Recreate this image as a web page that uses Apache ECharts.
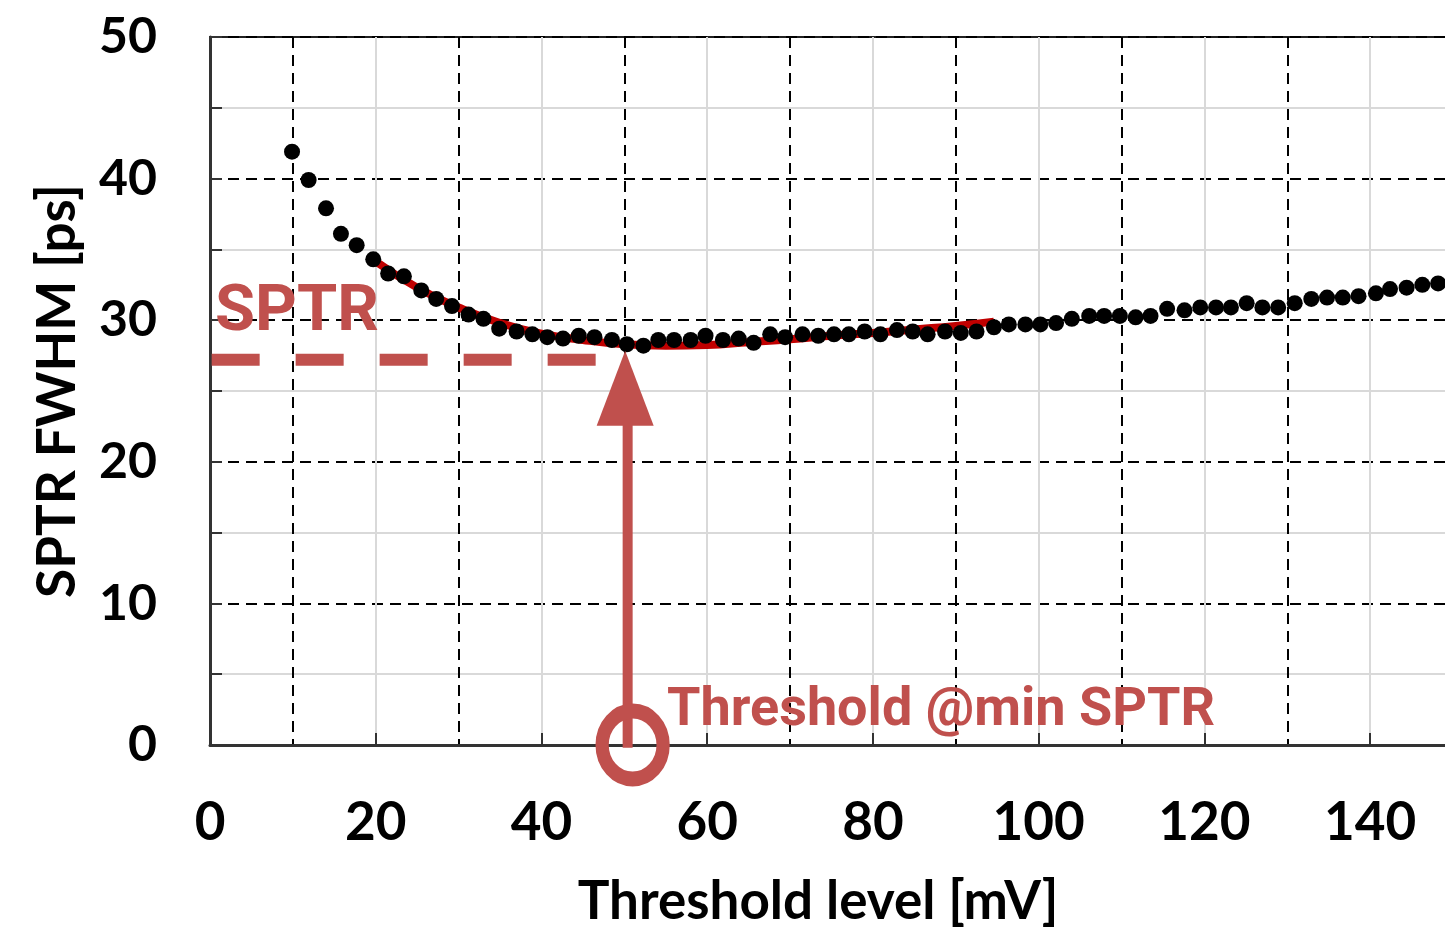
<!DOCTYPE html>
<html><head><meta charset="utf-8">
<script src="https://cdn.jsdelivr.net/npm/echarts@6/dist/echarts.min.js"></script>
<style>html,body{margin:0;padding:0;background:#fff;overflow:hidden}#c{width:1445px;height:930px}</style>
</head><body><div id="c"></div>
<script>
const thresholdX = [9.9, 11.9, 14.0, 15.8, 17.7, 19.7, 21.5, 23.4, 25.5, 27.3, 29.2, 31.2, 33.0, 34.9, 37.0, 38.9, 40.7, 42.6, 44.5, 46.4, 48.5, 50.3, 52.3, 54.1, 56.0, 58.0, 59.8, 61.9, 63.8, 65.6, 67.6, 69.4, 71.5, 73.4, 75.3, 77.1, 79.0, 80.9, 82.9, 84.8, 86.6, 88.7, 90.6, 92.5, 94.6, 96.4, 98.4, 100.2, 102.1, 104.0, 106.1, 107.9, 109.8, 111.7, 113.5, 115.5, 117.6, 119.5, 121.4, 123.2, 125.1, 127.0, 128.9, 130.9, 132.9, 134.8, 136.7, 138.6, 140.7, 142.4, 144.4, 146.3, 148.2];
const sptrFwhm = [41.9, 39.9, 37.9, 36.1, 35.3, 34.3, 33.3, 33.1, 32.1, 31.5, 31.0, 30.4, 30.1, 29.4, 29.2, 29.0, 28.8, 28.7, 28.9, 28.8, 28.6, 28.3, 28.2, 28.6, 28.6, 28.6, 28.9, 28.6, 28.7, 28.4, 29.0, 28.8, 29.0, 28.9, 29.0, 29.0, 29.2, 29.0, 29.3, 29.2, 29.0, 29.2, 29.1, 29.2, 29.5, 29.7, 29.7, 29.7, 29.8, 30.1, 30.3, 30.3, 30.3, 30.2, 30.3, 30.8, 30.7, 30.9, 30.9, 30.9, 31.2, 30.9, 30.9, 31.2, 31.5, 31.6, 31.6, 31.7, 31.9, 32.2, 32.3, 32.5, 32.6];
const fitX = [19.6, 25, 30, 35, 40, 45, 50, 55, 60, 65, 70, 75, 80, 85, 90, 94.6];
const fitY = [34.3, 32.3, 30.9, 29.8, 29.05, 28.6, 28.3, 28.2, 28.25, 28.45, 28.65, 28.9, 29.1, 29.35, 29.6, 29.9];
const sptrMinLevel = 27.2;
const sptrLineX = [0.2, 46.6];
const arrowShaftX = 50.4;
const arrowShaftY = [-0.2, 22.6];
const arrowHead = [50.1, 25.2];
const circleMark = [51.0, 0];
const xRange = [0, 150];
const yRange = [0, 50];
const xTitle = 'Threshold level [mV]';
const yTitle = 'SPTR FWHM [ps]';
const noteSptr = 'SPTR';
const noteThreshold = 'Threshold @min SPTR';

const RED = '#c0504d';
const blackFont = {fontFamily: 'Lato', fontWeight: 'bold', color: '#000'};
const chart = echarts.init(document.getElementById('c'), null, {renderer: 'canvas'});
chart.setOption({
  animation: false,
  backgroundColor: '#fff',
  grid: {left: 210, width: 1243, top: 37, bottom: 185, show: true, borderColor: '#222', borderWidth: 2,
         containLabel: false, outerBoundsMode: 'none'},
  xAxis: [
    {type: 'value', min: xRange[0], max: xRange[1], interval: 20, position: 'bottom',
     axisLine: {show: true, onZero: false, lineStyle: {color: '#333', width: 3}},
     axisTick: {show: true, inside: true, length: 12, lineStyle: {color: '#333', width: 2}},
     axisLabel: Object.assign({fontSize: 53, margin: 51, showMaxLabel: false}, blackFont),
     splitLine: {show: true, lineStyle: {color: '#d9d9d9', width: 2}},
     name: xTitle, nameLocation: 'middle', nameGap: 130,
     nameTextStyle: Object.assign({fontSize: 53, padding: [0, 27, 0, 0]}, blackFont)},
    {type: 'value', min: xRange[0], max: xRange[1], interval: 10, position: 'bottom',
     axisLine: {show: false}, axisTick: {show: false}, axisLabel: {show: false},
     splitLine: {show: true, lineStyle: {color: ['rgba(0,0,0,0)', '#000'], width: 2, type: [11, 7]}}}
  ],
  yAxis: [
    {type: 'value', min: yRange[0], max: yRange[1], interval: 10, position: 'left',
     axisLine: {show: true, onZero: false, lineStyle: {color: '#333', width: 3}},
     axisTick: {show: false},
     axisLabel: Object.assign({fontSize: 50, margin: 53}, blackFont),
     splitLine: {show: true, lineStyle: {color: '#000', width: 2, type: [11, 7]}},
     name: yTitle, nameLocation: 'middle', nameGap: 126,
     nameTextStyle: Object.assign({fontSize: 53}, blackFont)},
    {type: 'value', min: yRange[0], max: yRange[1], interval: 5, position: 'left',
     axisLine: {show: false},
     axisTick: {show: true, inside: true, length: 12, lineStyle: {color: '#333', width: 2}},
     axisLabel: {show: false},
     splitLine: {show: true, lineStyle: {color: ['rgba(0,0,0,0)', '#d9d9d9'], width: 2}}}
  ],
  series: [
    {type: 'line', name: 'fit', data: fitX.map((x, i) => [x, fitY[i]]), smooth: 0.5,
     showSymbol: false, lineStyle: {color: '#c00000', width: 8}, z: 3, silent: true},
    {type: 'scatter', name: 'SPTR', data: thresholdX.map((x, i) => [x, sptrFwhm[i]]),
     symbolSize: 16, itemStyle: {color: '#000', opacity: 1}, z: 5, silent: true},
    {type: 'line', name: 'minLine', data: sptrLineX.map(x => [x, sptrMinLevel]), showSymbol: false,
     lineStyle: {color: RED, width: 12, type: [48, 36], cap: 'butt'}, z: 6, silent: true},
    {type: 'line', name: 'shaft', data: arrowShaftY.map(y => [arrowShaftX, y]), showSymbol: false, clip: false,
     lineStyle: {color: RED, width: 10, cap: 'butt'}, z: 6, silent: true},
    {type: 'scatter', name: 'head', data: [arrowHead], symbol: 'triangle', symbolSize: [57, 75],
     itemStyle: {color: RED, opacity: 1}, z: 7, silent: true, clip: false},
    {type: 'scatter', name: 'circle', data: [circleMark], symbol: 'circle', symbolSize: [61, 68], clip: false,
     itemStyle: {color: 'rgba(0,0,0,0)', borderColor: RED, borderWidth: 14, opacity: 1}, z: 7, silent: true}
  ],
  graphic: [
    {type: 'text', x: 215, y: 314, z: 100,
     style: {text: noteSptr, font: 'bold 65px Roboto', fill: RED, verticalAlign: 'middle', align: 'left'}},
    {type: 'text', x: 667, y: 711, z: 100,
     style: {text: noteThreshold, font: 'bold 54px Roboto', fill: RED, verticalAlign: 'middle', align: 'left'}}
  ]
});
</script>
</body></html>
